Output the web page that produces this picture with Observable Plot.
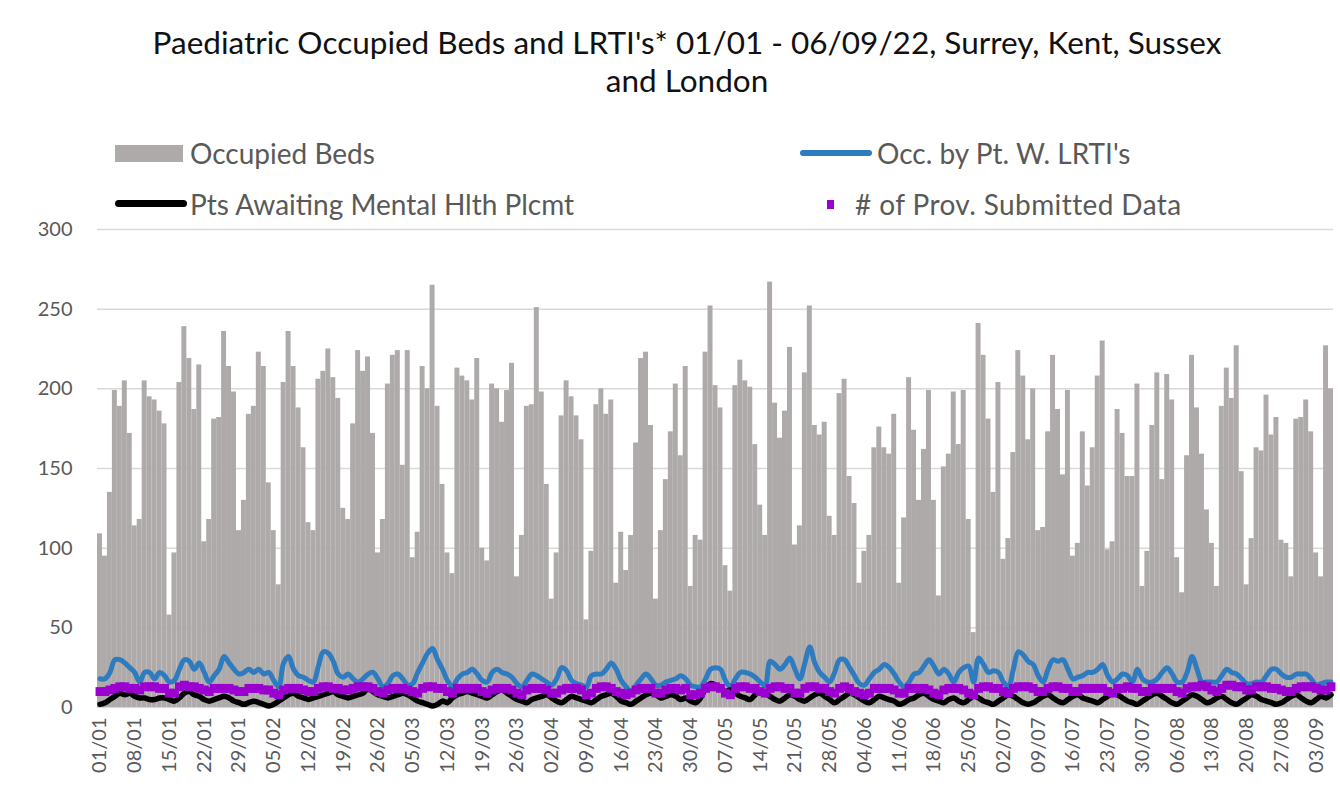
<!DOCTYPE html>
<html><head><meta charset="utf-8">
<script src="https://cdn.jsdelivr.net/npm/d3@7"></script>
<script src="https://cdn.jsdelivr.net/npm/@observablehq/plot@0.6"></script>
<style>
body{margin:0;background:#fff;font-family:Lato,"Open Sans",sans-serif;}
#wrap{position:relative;width:1340px;height:791px;overflow:hidden;background:#fff;}
#title{position:absolute;left:17px;top:23px;width:1340px;text-align:center;font-size:31.5px;line-height:38px;color:#111;z-index:2;}
.lt{position:absolute;font-size:28px;color:#595959;line-height:30px;white-space:nowrap;z-index:2;}
.sw{position:absolute;z-index:2;}
#chart{position:absolute;left:0;top:215px;z-index:1;}
</style></head><body>
<div id="wrap">
<div id="title">Paediatric Occupied Beds and LRTI's* 01/01 - 06/09/22, Surrey, Kent, Sussex<br>and London</div>
<div class="sw" style="left:115px;top:145px;width:68px;height:17px;background:#aeaaaa"></div>
<div class="lt" style="left:190px;top:138px">Occupied Beds</div>
<div class="sw" style="left:800px;top:150px;width:72px;height:6px;border-radius:3px;background:#2e7bbf"></div>
<div class="lt" style="left:877px;top:138px">Occ. by Pt. W. LRTI's</div>
<div class="sw" style="left:115px;top:200px;width:72px;height:7px;border-radius:4px;background:#000"></div>
<div class="lt" style="left:190px;top:189px">Pts Awaiting Mental Hlth Plcmt</div>
<div class="sw" style="left:827px;top:200px;width:7px;height:9px;background:#9b00d0"></div>
<div class="lt" style="left:855px;top:189px;letter-spacing:0.4px"># of Prov. Submitted Data</div>
<div id="chart"></div>
</div>
<script>
const startDay = "2022-01-01";
const endDay = "2022-09-07"; // exclusive
const yTicks = [0, 50, 100, 150, 200, 250, 300];

const occupiedBeds = [
109,95,135,199,189,205,172,114,118,205,195,193,186,178,58,97,204,239,219,187,215,104,118,181,182,
236,214,198,111,130,184,189,223,214,141,111,77,204,236,214,188,163,116,111,206,211,225,207,194,125,
118,178,224,211,220,172,97,118,203,221,224,152,224,94,110,214,200,265,189,140,97,84,213,208,205,
193,219,100,92,203,200,179,199,216,82,108,189,190,251,198,140,68,97,183,205,195,183,168,55,98,
190,200,184,193,78,110,86,108,166,219,223,177,68,111,143,173,203,158,214,76,108,105,223,252,202,
188,89,73,202,218,205,201,165,127,108,267,191,169,186,226,102,114,210,252,177,171,179,120,108,197,
206,145,128,78,98,108,163,176,163,159,184,78,119,207,174,130,162,199,130,70,151,159,198,165,199,
118,47,241,221,181,135,204,93,106,160,224,208,168,200,111,113,173,221,187,146,199,95,103,173,139,
163,208,230,99,104,187,172,145,145,203,76,98,177,210,143,209,193,94,72,158,221,188,159,124,103,
76,189,213,194,227,148,77,106,163,161,196,171,182,105,103,82,181,182,193,173,97,82,227,200];

const lrtiBeds = [
18,18,22,30,30,28,25,22,16,22,22,18,22,20,16,17,24,30,29,24,28,22,16,20,24,
32,28,24,21,22,24,22,24,21,22,17,13,28,32,24,20,19,17,16,26,35,34,29,21,19,
21,18,16,18,21,22,18,13,15,20,21,18,14,15,22,28,34,37,30,24,17,13,18,21,22,
24,21,17,16,22,24,22,21,19,15,13,17,21,20,18,16,14,18,25,23,17,15,14,13,20,
21,21,24,28,24,17,13,10,14,18,21,18,14,14,16,17,18,20,18,14,13,13,18,24,25,
24,17,13,18,22,22,21,19,16,14,29,27,24,27,31,24,18,28,38,28,22,19,16,22,30,
30,25,20,15,14,18,22,24,27,25,21,16,13,16,21,22,26,30,26,21,24,21,16,22,25,
26,16,31,27,22,23,22,16,13,24,35,33,29,27,20,16,24,30,29,30,24,18,19,20,22,
22,24,27,20,16,18,21,20,16,24,18,16,16,18,22,25,21,16,16,22,32,24,16,16,16,
16,20,24,22,21,18,15,15,16,16,20,24,24,21,19,19,21,21,21,18,14,15,16,16];

const mentalHealth = [
2,3,5,7,9,8,9,7,6,6,5,5,6,6,5,4,6,9,10,8,7,5,4,5,6,
7,6,4,3,2,3,4,3,2,1,2,4,6,8,9,7,6,5,6,7,8,9,10,8,7,
6,7,8,9,12,10,8,7,6,7,8,9,8,6,4,3,2,1,2,4,3,6,8,9,10,
9,8,7,6,8,10,11,9,7,5,4,3,5,6,7,8,6,4,3,5,7,6,5,4,3,
5,7,8,9,7,4,3,2,4,6,8,9,8,6,7,8,7,5,6,4,3,6,12,15,14,
12,10,11,9,7,6,5,8,10,9,7,5,4,6,8,7,5,4,6,8,9,7,5,3,5,
7,9,8,6,4,3,5,7,6,5,4,2,3,5,6,8,9,7,5,4,3,5,6,4,3,
5,7,6,4,3,2,4,6,8,7,5,3,2,3,5,7,8,6,4,3,5,7,8,6,5,
4,3,5,7,9,8,6,4,3,2,4,6,8,9,7,5,3,2,4,6,8,7,5,3,4,
6,7,5,3,2,4,6,8,7,5,4,3,2,3,5,7,8,6,4,3,5,7,6,8];

const providers = [
10,10,11,12,13,13,12,12,11,13,13,13,12,12,9,9,13,14,13,13,12,11,10,12,12,
12,12,11,10,10,12,12,12,11,11,9,8,11,12,12,12,11,10,10,12,13,13,12,12,11,
11,12,13,13,13,12,10,9,11,12,12,12,11,10,9,12,13,13,12,12,10,9,12,12,12,
12,12,10,9,11,12,12,12,11,9,8,11,12,12,12,11,9,9,11,12,12,12,11,8,9,
12,13,13,12,10,9,8,9,11,12,12,12,9,9,11,12,12,11,12,8,8,9,12,13,13,
12,9,8,12,13,13,12,12,10,9,12,13,13,12,12,9,9,12,13,13,12,12,10,9,12,
13,12,10,9,8,9,12,12,12,12,11,9,9,12,12,12,12,11,9,8,11,12,12,12,11,
9,8,12,13,13,12,12,10,9,12,13,13,13,12,10,10,12,13,13,12,12,10,10,12,12,
12,12,12,10,9,12,12,13,12,12,10,10,12,12,12,12,12,10,9,12,13,13,14,13,11,
10,12,14,14,13,13,11,11,13,13,13,12,12,11,10,10,12,13,13,13,12,11,11,13];

const days = d3.utcDay.range(new Date(startDay + "T00:00Z"), new Date(endDay + "T00:00Z"));
const data = days.map((d, i) => ({
  start: d,
  end: d3.utcDay.offset(d, 1),
  mid: d3.utcHour.offset(d, 12),
  beds: occupiedBeds[i],
  lrti: lrtiBeds[i],
  mh: mentalHealth[i],
  prov: providers[i]
}));
const xTicks = data.filter((d, i) => i % 7 === 0).map(d => d.mid);

const chart = Plot.plot({
  width: 1340,
  height: 576,
  marginTop: 14,
  marginLeft: 97,
  marginRight: 7,
  marginBottom: 84,
  style: {fontFamily: "Lato, 'Open Sans', sans-serif", background: "transparent", overflow: "visible"},
  x: {type: "utc", domain: [days[0], d3.utcDay.offset(days[days.length - 1], 1)]},
  y: {domain: [0, 300]},
  marks: [
    Plot.gridY(yTicks, {stroke: "#d9d9d9", strokeOpacity: 1, strokeWidth: 1.5}),
    Plot.rectY(data, {x1: "start", x2: "end", y: "beds", fill: "#aeaaaa", inset: 0}),
    Plot.lineY(data, {x: "mid", y: "lrti", stroke: "#2e7bbf", strokeWidth: 5, curve: "catmull-rom"}),
    Plot.lineY(data, {x: "mid", y: "mh", stroke: "#000", strokeWidth: 5.5, curve: "catmull-rom"}),
    Plot.dot(data, {x: "mid", y: "prov", symbol: "square", r: 5, fill: "#9b00d0", stroke: "none"}),
    Plot.axisY(yTicks, {tickSize: 0, tickPadding: 25, fontSize: 20, color: "#595959", label: null}),
    Plot.axisX(xTicks, {tickSize: 0, tickPadding: 10, tickRotate: -90, fontSize: 20, color: "#595959",
      tickFormat: d3.utcFormat("%d/%m"), label: null})
  ]
});
document.getElementById("chart").appendChild(chart);
</script>
</body></html>
